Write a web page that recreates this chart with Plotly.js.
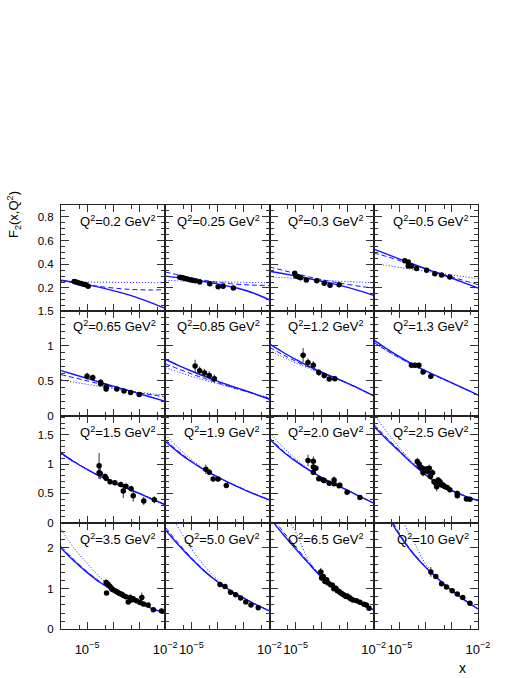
<!DOCTYPE html>
<html>
<head>
<meta charset="utf-8">
<script src="https://cdn.plot.ly/plotly-3.0.1.min.js"></script>
<style>
  html, body { margin: 0; padding: 0; background: white; }
  #plot { width: 524px; height: 678px; }
</style>
</head>
<body>
<div id="plot"></div>
<script>
/* F2(x,Q^2) in 16 Q^2 bins: data points + three model curves */

var curveX = [1e-6, 3.16e-6, 1e-5, 3.16e-5, 1e-4, 3.16e-4, 1e-3, 3.16e-3, 1e-2];

var q2Labels = ["0.2", "0.25", "0.3", "0.5", "0.65", "0.85", "1.2", "1.3",
                "1.5", "1.9", "2.0", "2.5", "3.5", "5.0", "6.5", "10"];

// Q2 = 0.2
var x1 = [3.2e-6, 3.8e-6, 4.6e-6, 5.8e-6, 7.2e-6, 9.1e-6, 1.1e-5];
var f1 = [0.255, 0.25, 0.245, 0.237, 0.232, 0.228, 0.215];
var e1 = [0.008, 0.008, 0.008, 0.008, 0.008, 0.008, 0.01];
var solid1  = [0.265, 0.248, 0.228, 0.205, 0.178, 0.148, 0.113, 0.073, 0.028];
var dashed1 = [0.262, 0.245, 0.228, 0.212, 0.2, 0.19, 0.185, 0.183, 0.186];
var dotted1 = [0.255, 0.252, 0.25, 0.249, 0.248, 0.247, 0.246, 0.245, 0.245];

// Q2 = 0.25
var x2 = [3.6e-6, 4.2e-6, 4.9e-6, 5.8e-6, 7e-6, 8.9e-6, 1.1e-5, 1.4e-5, 2.1e-5, 5.1e-5, 1.07e-4, 1.66e-4, 4.1e-4];
var f2 = [0.29, 0.288, 0.285, 0.28, 0.276, 0.27, 0.265, 0.26, 0.25, 0.235, 0.21, 0.215, 0.2];
var e2 = [0.008, 0.008, 0.008, 0.008, 0.008, 0.008, 0.008, 0.008, 0.008, 0.01, 0.01, 0.01, 0.012];
var solid2  = [0.30, 0.287, 0.272, 0.255, 0.235, 0.212, 0.185, 0.147, 0.10];
var dashed2 = [0.335, 0.31, 0.285, 0.265, 0.248, 0.236, 0.228, 0.223, 0.222];
var dotted2 = [0.264, 0.26, 0.257, 0.254, 0.252, 0.25, 0.248, 0.246, 0.245];

// Q2 = 0.3
var x3 = [9.3e-6, 1.02e-5, 1.26e-5, 1.55e-5, 2.6e-5, 6.5e-5, 1.26e-4, 2.1e-4, 4.7e-4];
var f3 = [0.325, 0.3, 0.295, 0.287, 0.267, 0.262, 0.24, 0.222, 0.228];
var e3 = [0.012, 0.008, 0.008, 0.008, 0.008, 0.008, 0.008, 0.008, 0.008];
var solid3  = [0.341, 0.322, 0.302, 0.28, 0.257, 0.232, 0.205, 0.173, 0.137];
var dashed3 = [0.377, 0.35, 0.322, 0.295, 0.27, 0.248, 0.23, 0.213, 0.199];
var dotted3 = [0.292, 0.287, 0.281, 0.274, 0.267, 0.26, 0.254, 0.249, 0.245];

// Q2 = 0.5
var x4 = [1.55e-5, 2.1e-5, 2.1e-5, 2.8e-5, 4.4e-5, 1.07e-4, 2.2e-4, 4e-4, 8.3e-4];
var f4 = [0.43, 0.42, 0.385, 0.385, 0.365, 0.35, 0.32, 0.31, 0.292];
var e4 = [0.015, 0.012, 0.015, 0.012, 0.012, 0.01, 0.01, 0.01, 0.01];
var solid4  = [0.527, 0.485, 0.443, 0.402, 0.362, 0.322, 0.282, 0.241, 0.199];
var dashed4 = [0.496, 0.465, 0.43, 0.395, 0.36, 0.325, 0.292, 0.26, 0.228];
var dotted4 = [0.406, 0.39, 0.373, 0.357, 0.341, 0.325, 0.309, 0.294, 0.279];

// Q2 = 0.65
var x5 = [1e-5, 1.65e-5, 3.3e-5, 3.3e-5, 5.4e-5, 5.4e-5, 1.38e-4, 2.6e-4, 4.7e-4, 1e-3];
var f5 = [0.565, 0.548, 0.48, 0.46, 0.415, 0.385, 0.383, 0.355, 0.335, 0.305];
var e5 = [0.05, 0.04, 0.04, 0.04, 0.05, 0.04, 0.02, 0.02, 0.02, 0.02];
var solid5  = [0.646, 0.59, 0.535, 0.48, 0.425, 0.372, 0.318, 0.263, 0.208];
var dashed5 = [0.587, 0.545, 0.5, 0.455, 0.41, 0.37, 0.33, 0.3, 0.271];
var dotted5 = [0.515, 0.48, 0.45, 0.42, 0.39, 0.36, 0.335, 0.315, 0.296];

// Q2 = 0.85
var x6 = [1.4e-5, 2.1e-5, 3.2e-5, 4.9e-5, 7.6e-5];
var f6 = [0.71, 0.645, 0.61, 0.575, 0.53];
var e6 = [0.09, 0.06, 0.06, 0.06, 0.06];
var solid6  = [0.807, 0.72, 0.64, 0.565, 0.495, 0.43, 0.37, 0.305, 0.238];
var dashed6 = [0.743, 0.67, 0.6, 0.535, 0.475, 0.415, 0.36, 0.305, 0.25];
var dotted6 = [0.685, 0.625, 0.565, 0.51, 0.46, 0.41, 0.36, 0.31, 0.26];

// Q2 = 1.2
var x7 = [1.95e-5, 3e-5, 4.8e-5, 7.8e-5, 1.26e-4, 1.95e-4, 3.2e-4];
var f7 = [0.865, 0.76, 0.72, 0.62, 0.575, 0.525, 0.53];
var e7 = [0.1, 0.06, 0.06, 0.05, 0.04, 0.03, 0.03];
var solid7  = [1.025, 0.91, 0.805, 0.71, 0.625, 0.545, 0.465, 0.38, 0.286];
var dashed7 = [0.976, 0.875, 0.78, 0.695, 0.615, 0.54, 0.462, 0.378, 0.29];
var dotted7 = [0.927, 0.84, 0.755, 0.68, 0.605, 0.535, 0.46, 0.378, 0.295];

// Q2 = 1.3
var x8 = [2.8e-5, 3.8e-5, 5.4e-5, 7.8e-5, 1.55e-4];
var f8 = [0.72, 0.72, 0.72, 0.625, 0.565];
var e8 = [0.04, 0.04, 0.04, 0.03, 0.03];
var solid8  = [1.083, 0.955, 0.84, 0.735, 0.64, 0.555, 0.47, 0.385, 0.296];
var dashed8 = [1.05, 0.93, 0.825, 0.725, 0.635, 0.55, 0.468, 0.385, 0.3];
var dotted8 = [1.04, 0.925, 0.82, 0.72, 0.632, 0.55, 0.468, 0.386, 0.303];

// Q2 = 1.5
var x9 = [2.9e-5, 2.9e-5, 3.2e-5, 4.9e-5, 5.4e-5, 7.6e-5, 1.17e-4, 1.95e-4, 2.45e-4, 3.1e-4, 4.9e-4, 5.9e-4, 1.5e-3, 3.8e-3];
var f9 = [0.97, 0.85, 0.84, 0.79, 0.76, 0.70, 0.68, 0.65, 0.54, 0.62, 0.58, 0.46, 0.37, 0.39];
var e9 = [0.22, 0.1, 0.1, 0.05, 0.05, 0.05, 0.04, 0.04, 0.12, 0.04, 0.05, 0.1, 0.07, 0.06];
var solid9  = [1.188, 1.04, 0.91, 0.79, 0.685, 0.59, 0.5, 0.4, 0.303];
var dashed9 = [1.2, 1.045, 0.912, 0.792, 0.688, 0.592, 0.502, 0.405, 0.31];
var dotted9 = [1.17, 1.03, 0.905, 0.79, 0.688, 0.594, 0.505, 0.41, 0.315];

// Q2 = 1.9
var x10 = [3.6e-5, 4.9e-5, 6.9e-5, 1.07e-4, 2.2e-4];
var f10 = [0.91, 0.86, 0.745, 0.745, 0.635];
var e10 = [0.08, 0.05, 0.04, 0.04, 0.03];
var solid10  = [1.387, 1.2, 1.04, 0.9, 0.78, 0.67, 0.57, 0.475, 0.389];
var dashed10 = [1.42, 1.22, 1.05, 0.905, 0.782, 0.671, 0.571, 0.476, 0.39];
var dotted10 = [1.5, 1.28, 1.08, 0.915, 0.785, 0.672, 0.572, 0.478, 0.392];

// Q2 = 2.0
var x11 = [3e-5, 4.8e-5, 4.8e-5, 6e-5, 4.8e-5, 7.8e-5, 1.15e-4, 1.26e-4, 1.95e-4, 3e-4, 3e-4, 4.7e-4, 5e-4, 9.5e-4, 2.95e-3];
var f11 = [1.06, 1.05, 0.95, 0.93, 0.86, 0.75, 0.73, 0.72, 0.675, 0.73, 0.665, 0.63, 0.64, 0.52, 0.43];
var e11 = [0.1, 0.08, 0.08, 0.05, 0.05, 0.04, 0.04, 0.04, 0.04, 0.06, 0.04, 0.04, 0.04, 0.03, 0.03];
var solid11  = [1.428, 1.22, 1.05, 0.9, 0.77, 0.655, 0.55, 0.44, 0.332];
var dashed11 = [1.45, 1.235, 1.06, 0.905, 0.772, 0.656, 0.551, 0.441, 0.333];
var dotted11 = [1.54, 1.3, 1.09, 0.915, 0.775, 0.658, 0.552, 0.443, 0.335];

// Q2 = 2.5
var x12 = [4.7e-5, 5.5e-5, 5.9e-5, 7.4e-5, 7.8e-5, 9.1e-5, 1.07e-4, 1.23e-4, 1.35e-4, 1.5e-4, 1.8e-4, 2.05e-4, 2.4e-4,
           2.6e-4, 2.95e-4, 3.5e-4, 4e-4, 4.6e-4, 5.4e-4, 6.6e-4, 8.3e-4, 1.6e-3, 1.6e-3, 3.6e-3, 4.9e-3];
var f12 = [1.045, 1.0, 0.96, 0.93, 0.85, 0.9, 0.915, 0.87, 0.93, 0.79, 0.85, 0.70, 0.675,
           0.615, 0.73, 0.70, 0.645, 0.645, 0.615, 0.6, 0.56, 0.5, 0.46, 0.405, 0.4];
var e12 = [0.06, 0.05, 0.05, 0.05, 0.06, 0.05, 0.05, 0.05, 0.06, 0.05, 0.06, 0.05, 0.05,
           0.08, 0.05, 0.05, 0.05, 0.04, 0.04, 0.04, 0.04, 0.05, 0.04, 0.04, 0.03];
var solid12  = [1.644, 1.42, 1.21, 1.0, 0.81, 0.66, 0.545, 0.455, 0.377];
var dashed12 = [1.68, 1.45, 1.23, 1.01, 0.815, 0.662, 0.547, 0.457, 0.38];
var dotted12 = [1.85, 1.55, 1.27, 1.03, 0.82, 0.664, 0.548, 0.458, 0.381];

// Q2 = 3.5
var x13 = [5.4e-5, 6e-5, 5.6e-5, 6.5e-5, 7.6e-5, 8.7e-5, 9.5e-5, 1.17e-4, 1.38e-4, 1.58e-4, 1.8e-4, 2.15e-4, 2.45e-4,
           3.1e-4, 3.8e-4, 4.5e-4, 5.1e-4, 5.9e-4, 7.9e-4, 1.07e-3, 1.26e-3, 1.45e-3, 2.2e-3, 3.5e-3, 7.2e-3];
var f13 = [1.15, 1.12, 0.89, 1.1, 1.05, 1.0, 0.98, 0.95, 0.92, 0.9, 0.88, 0.86, 0.83,
           0.8, 0.67, 0.78, 0.72, 0.75, 0.7, 0.66, 0.78, 0.62, 0.6, 0.48, 0.45];
var e13 = [0.08, 0.06, 0.05, 0.06, 0.05, 0.05, 0.05, 0.05, 0.05, 0.05, 0.05, 0.05, 0.05,
           0.05, 0.06, 0.08, 0.05, 0.06, 0.05, 0.05, 0.12, 0.05, 0.05, 0.05, 0.04];
var solid13  = [2.0, 1.68, 1.4, 1.15, 0.95, 0.78, 0.64, 0.51, 0.395];
var dashed13 = [2.04, 1.71, 1.42, 1.165, 0.955, 0.782, 0.642, 0.512, 0.398];
var dotted13 = [2.45, 2.0, 1.62, 1.28, 1.0, 0.8, 0.65, 0.515, 0.4];

// Q2 = 5.0
var x14 = [1.26e-4, 1.95e-4, 3.2e-4, 5e-4, 7.8e-4, 1.23e-3, 1.95e-3, 3.7e-3];
var f14 = [1.1, 1.05, 0.91, 0.85, 0.77, 0.67, 0.6, 0.53];
var e14 = [0.05, 0.04, 0.04, 0.04, 0.04, 0.04, 0.04, 0.04];
var solid14  = [2.45, 2.08, 1.74, 1.43, 1.17, 0.95, 0.77, 0.6, 0.452];
var dashed14 = [2.51, 2.12, 1.76, 1.445, 1.175, 0.952, 0.772, 0.602, 0.455];
var dotted14 = [3.1, 2.5, 1.98, 1.56, 1.22, 0.965, 0.775, 0.605, 0.456];

// Q2 = 6.5
var x15 = [9.3e-5, 1e-4, 1.15e-4, 1.35e-4, 1.55e-4, 1.78e-4, 2.2e-4, 2.6e-4, 2.95e-4, 3.5e-4, 4e-4, 4.7e-4, 5.4e-4,
           6.3e-4, 7.1e-4, 8.5e-4, 9.5e-4, 1.15e-3, 1.3e-3, 1.6e-3, 2.2e-3, 2.95e-3, 4.2e-3, 5.2e-3, 6.6e-3];
var f15 = [1.41, 1.26, 1.3, 1.175, 1.215, 1.135, 1.095, 1.08, 0.995, 1.01, 0.945, 0.93, 0.89,
           0.865, 0.845, 0.805, 0.82, 0.78, 0.75, 0.72, 0.7, 0.665, 0.615, 0.6, 0.52];
var e15 = [0.1, 0.08, 0.05, 0.05, 0.04, 0.04, 0.04, 0.04, 0.03, 0.03, 0.03, 0.03, 0.03,
           0.03, 0.03, 0.03, 0.03, 0.03, 0.03, 0.03, 0.03, 0.03, 0.03, 0.03, 0.03];
var solid15  = [2.75, 2.35, 1.98, 1.62, 1.28, 1.02, 0.79, 0.62, 0.48];
var dashed15 = [2.85, 2.42, 2.03, 1.65, 1.295, 1.028, 0.795, 0.622, 0.482];
var dotted15 = [3.7, 2.9, 2.4, 1.7, 1.3, 1.03, 0.8, 0.625, 0.485];

// Q2 = 10
var x16 = [1.55e-4, 2.4e-4, 4e-4, 6.2e-4, 1.02e-3, 1.6e-3, 2.6e-3, 4.9e-3];
var f16 = [1.41, 1.3, 1.12, 1.04, 0.945, 0.865, 0.78, 0.64];
var e16 = [0.12, 0.04, 0.04, 0.04, 0.04, 0.04, 0.04, 0.04];
var solid16  = [3.6, 2.85, 2.3, 1.87, 1.52, 1.22, 0.95, 0.71, 0.5];
var dashed16 = [3.7, 2.92, 2.34, 1.89, 1.53, 1.225, 0.952, 0.712, 0.502];
var dotted16 = [6.0, 4.5, 2.85, 2.2, 1.6, 1.24, 0.955, 0.715, 0.505];

var panels = [
  [x1, f1, e1, solid1, dashed1, dotted1], [x2, f2, e2, solid2, dashed2, dotted2],
  [x3, f3, e3, solid3, dashed3, dotted3], [x4, f4, e4, solid4, dashed4, dotted4],
  [x5, f5, e5, solid5, dashed5, dotted5], [x6, f6, e6, solid6, dashed6, dotted6],
  [x7, f7, e7, solid7, dashed7, dotted7], [x8, f8, e8, solid8, dashed8, dotted8],
  [x9, f9, e9, solid9, dashed9, dotted9], [x10, f10, e10, solid10, dashed10, dotted10],
  [x11, f11, e11, solid11, dashed11, dotted11], [x12, f12, e12, solid12, dashed12, dotted12],
  [x13, f13, e13, solid13, dashed13, dotted13], [x14, f14, e14, solid14, dashed14, dotted14],
  [x15, f15, e15, solid15, dashed15, dotted15], [x16, f16, e16, solid16, dashed16, dotted16]
];

// y axis per row
var rowRange = [[0.01, 0.9], [0, 1.5], [0, 1.82], [0, 2.62]];
var rowTicks = [[0.2, 0.4, 0.6, 0.8], [0, 0.5, 1, 1.5], [0, 0.5, 1, 1.5], [0, 1, 2]];
var rowTickText = [["0.2", "0.4", "0.6", "0.8"], ["0", "0.5", "1", "1.5"], ["0", "0.5", "1", "1.5"], ["0", "1", "2"]];
var rowMinor = [0.05, 0.1, 0.1, 0.2];

// page geometry (pixels)
var W = 524, H = 678;
var colEdges = [61, 165.25, 269.5, 373.75, 478];
var rowEdges = [205, 310.5, 416, 522.7, 629.3];

var BLUE = "rgb(20,20,255)";
var traces = [];
var layout = {
  width: W, height: H,
  margin: {l: 0, r: 0, t: 0, b: 0},
  paper_bgcolor: "white", plot_bgcolor: "white",
  showlegend: false,
  font: {family: "Liberation Sans, Arial, sans-serif", size: 12, color: "black"},
  annotations: []
};

panels.forEach(function (p, i) {
  var r = Math.floor(i / 4), c = i % 4, n = i + 1;
  var xa = "x" + (n === 1 ? "" : n), ya = "y" + (n === 1 ? "" : n);

  traces.push({x: curveX, y: p[5], xaxis: xa, yaxis: ya, mode: "lines", type: "scatter",
               line: {color: BLUE, width: 1, dash: "1px,2px", shape: "spline"}, hoverinfo: "skip"});
  traces.push({x: curveX, y: p[4], xaxis: xa, yaxis: ya, mode: "lines", type: "scatter",
               line: {color: BLUE, width: 1, dash: "5px,3px", shape: "spline"}, hoverinfo: "skip"});
  traces.push({x: curveX, y: p[3], xaxis: xa, yaxis: ya, mode: "lines", type: "scatter",
               line: {color: BLUE, width: 1.4, shape: "spline"}, hoverinfo: "skip"});
  traces.push({x: p[0], y: p[1], xaxis: xa, yaxis: ya, mode: "markers", type: "scatter",
               marker: {color: "black", size: 5.5},
               error_y: {type: "data", array: p[2], color: "#333", thickness: 1, width: 0}});

  layout["xaxis" + (n === 1 ? "" : n)] = {
    type: "log", range: [-6, -2], anchor: ya,
    domain: [colEdges[c] / W, colEdges[c + 1] / W],
    showgrid: false, zeroline: false,
    showline: true, linecolor: "#222", linewidth: 1, mirror: "ticks",
    ticks: "inside", ticklen: 7, tickcolor: "#333",
    tickmode: "array", tickvals: [1e-5, 1e-4, 1e-3, 1e-2],
    ticktext: ["10<sup>\u22125</sup>", "", "", "10<sup>\u22122</sup>"],
    showticklabels: r === 3, tickfont: {size: 13}, ticklabelstandoff: 8,
    minor: {tickmode: "array", tickvals: [5e-6, 5e-5, 5e-4, 5e-3], ticks: "inside", ticklen: 4, tickcolor: "#333"}
  };
  layout["yaxis" + (n === 1 ? "" : n)] = {
    range: rowRange[r], anchor: xa,
    domain: [1 - rowEdges[r + 1] / H, 1 - rowEdges[r] / H],
    showgrid: false, zeroline: false,
    showline: true, linecolor: "#222", linewidth: 1, mirror: "ticks",
    ticks: "inside", ticklen: 8, tickcolor: "#333",
    tickmode: "array", tickvals: rowTicks[r], ticktext: rowTickText[r],
    showticklabels: c === 0, tickfont: {size: 11.5}, ticklabelstandoff: 4,
    minor: {dtick: rowMinor[r], tick0: 0, ticks: "inside", ticklen: 4, tickcolor: "#333"}
  };

  layout.annotations.push({
    xref: xa + " domain", yref: ya + " domain", x: 0.93, y: 0.85,
    xanchor: "right", yanchor: "middle", showarrow: false,
    text: "Q<sup>2</sup>=" + q2Labels[i] + " GeV<sup>2</sup>", font: {size: 13}
  });
});

// axis titles
layout.annotations.push({
  xref: "paper", yref: "paper", x: 14 / W, y: 1 - 215 / H, textangle: -90,
  xanchor: "center", yanchor: "middle", showarrow: false,
  text: "F<sub>2</sub>(x,Q<sup>2</sup>)", font: {size: 13}
});
layout.annotations.push({
  xref: "paper", yref: "paper", x: 463 / W, y: 1 - 668 / H,
  xanchor: "center", yanchor: "middle", showarrow: false,
  text: "x", font: {size: 14}
});

Plotly.newPlot("plot", traces, layout, {staticPlot: true});
</script>
</body>
</html>
